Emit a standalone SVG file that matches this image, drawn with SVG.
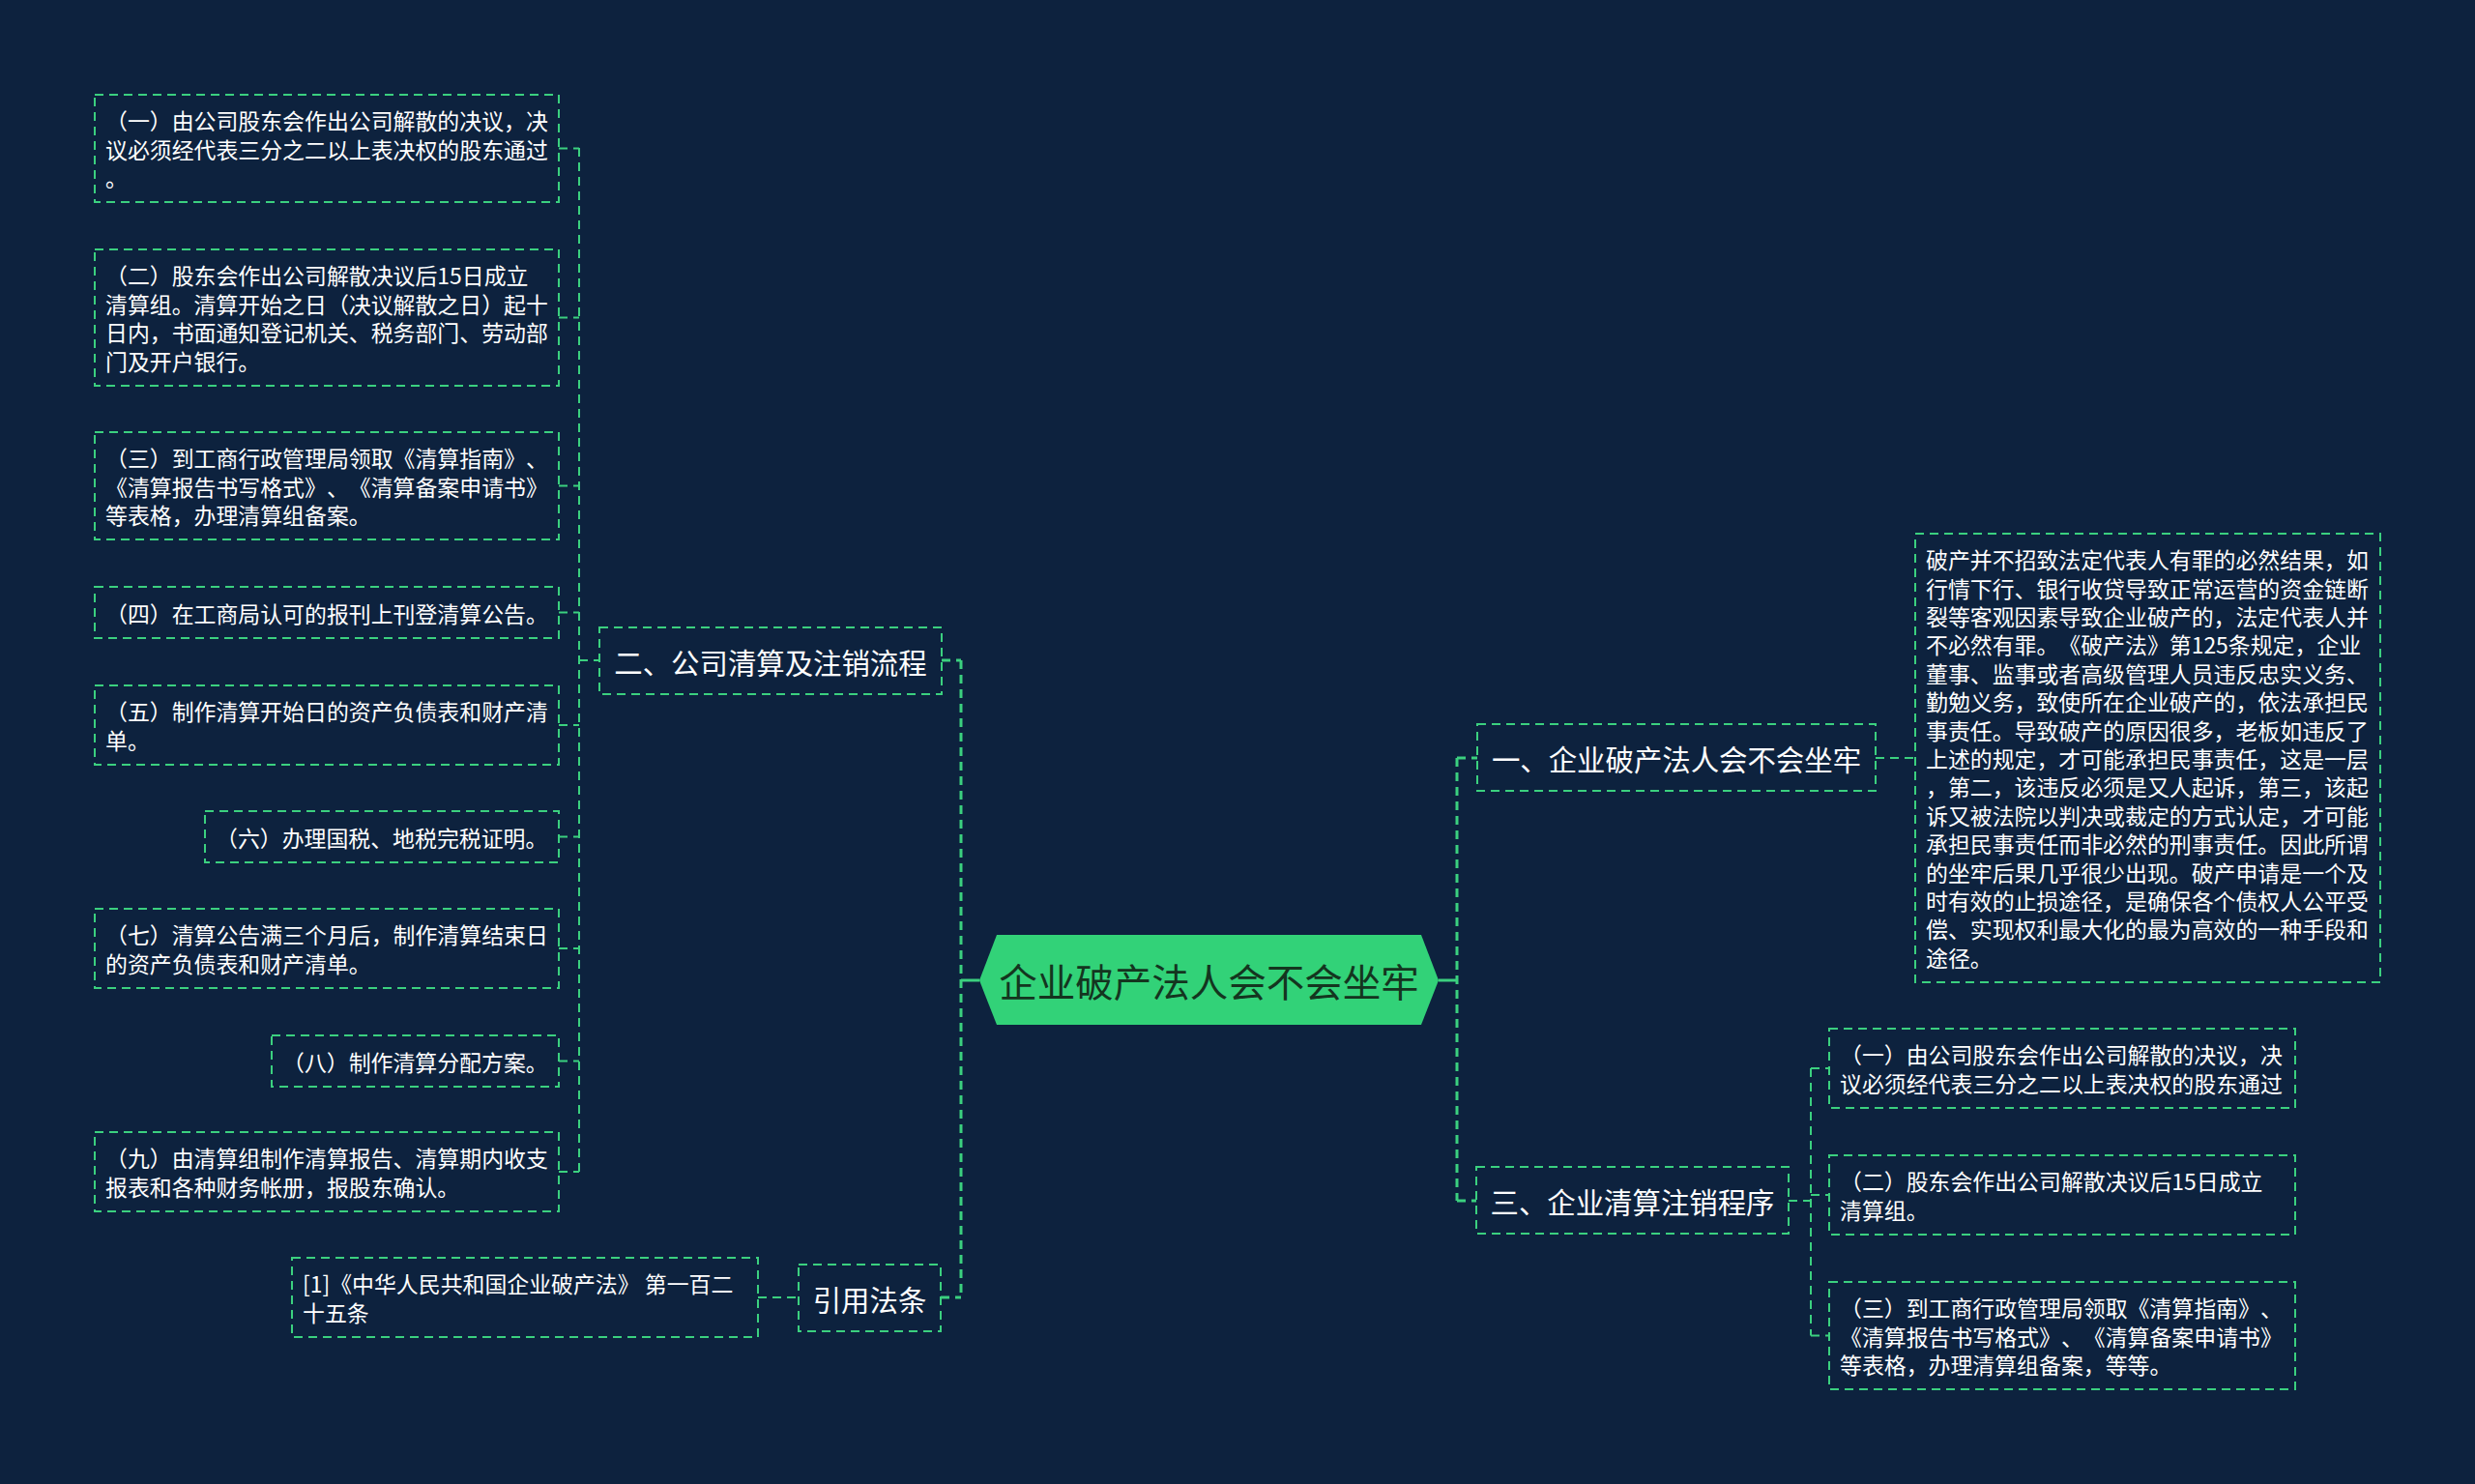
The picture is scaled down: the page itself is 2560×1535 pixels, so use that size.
<svg xmlns="http://www.w3.org/2000/svg" width="2560" height="1535" viewBox="0 0 2560 1535">
<style>
.bg{fill:#0d223e}
.box{fill:none;stroke:#3bd07f;stroke-width:2;stroke-dasharray:9 6}
.lk{fill:none;stroke:#3bd07f;stroke-width:2;stroke-dasharray:9 6}
.tk{fill:none;stroke:#3bd07f;stroke-width:3;stroke-dasharray:9 6}
.sol{fill:none;stroke:#3bd07f;stroke-width:3}
.t{font-family:"Noto Sans CJK SC","Microsoft YaHei",sans-serif;fill:#ffffff;dominant-baseline:central;text-spacing-trim:space-all}
.s{font-size:22.9px}
.m{font-size:29.4px}
.c{font-size:39.5px;fill:#14351f}
</style>
<rect class="bg" x="0" y="0" width="2560" height="1535"/>
<g id="connectors">
<path class="tk" d="M994,683 V1343 M974,683 H994 M973,1342 H994 M1507,784 V1242 M1507,784 H1528 M1507,1242 H1527"/>
<path class="sol" d="M994,1014 H1013 M1488,1014 H1507"/>
<path class="lk" d="M599,153 V1212 M599,683 H620 M578,153.5 H599 M578,328.5 H599 M578,502.5 H599 M578,633.5 H599 M578,750 H599 M578,865.5 H599 M578,981 H599 M578,1097.5 H599 M578,1212 H599"/>
<path class="lk" d="M784,1342 H826 M1940,784 H1981 M1850,1242 H1873 M1873,1105 V1381.5 M1873,1105 H1892 M1873,1236 H1892 M1873,1381.5 H1892"/>
</g>
<g id="root">
<polygon points="1013,1014 1031,967 1470,967 1488,1014 1470,1060 1031,1060" fill="#32d278"/>
<text class="t c" x="1250.5" y="1013" text-anchor="middle">企业破产法人会不会坐牢</text>
</g>
<g id="n2">
<rect class="box" x="620" y="649" width="354" height="69"/>
<text class="t m" x="797" y="684" text-anchor="middle">二、公司清算及注销流程</text>
</g>
<g id="nref">
<rect class="box" x="826" y="1308" width="147" height="69"/>
<text class="t m" x="899.5" y="1343" text-anchor="middle">引用法条</text>
</g>
<g id="n1">
<rect class="box" x="1528" y="749" width="412" height="69"/>
<text class="t m" x="1734" y="784" text-anchor="middle">一、企业破产法人会不会坐牢</text>
</g>
<g id="n3">
<rect class="box" x="1527" y="1207" width="323" height="69"/>
<text class="t m" x="1688.5" y="1242" text-anchor="middle">三、企业清算注销程序</text>
</g>
<g id="l1">
<rect class="box" x="98" y="98" width="480" height="111"/>
<text class="t s"><tspan x="109" y="124.1">（一）由公司股东会作出公司解散的决议，决</tspan><tspan x="109" y="153.5">议必须经代表三分之二以上表决权的股东通过</tspan><tspan x="109" y="182.9">。</tspan></text>
</g>
<g id="l2">
<rect class="box" x="98" y="258" width="480" height="141"/>
<text class="t s"><tspan x="109" y="284.4">（二）股东会作出公司解散决议后15日成立</tspan><tspan x="109" y="313.8">清算组。清算开始之日（决议解散之日）起十</tspan><tspan x="109" y="343.2">日内，书面通知登记机关、税务部门、劳动部</tspan><tspan x="109" y="372.6">门及开户银行。</tspan></text>
</g>
<g id="l3">
<rect class="box" x="98" y="447" width="480" height="111"/>
<text class="t s"><tspan x="109" y="473.1">（三）到工商行政管理局领取《清算指南》、</tspan><tspan x="109" y="502.5">《清算报告书写格式》、《清算备案申请书》</tspan><tspan x="109" y="531.9">等表格，办理清算组备案。</tspan></text>
</g>
<g id="l4">
<rect class="box" x="98" y="607" width="480" height="53"/>
<text class="t s" x="109" y="633.5">（四）在工商局认可的报刊上刊登清算公告。</text>
</g>
<g id="l5">
<rect class="box" x="98" y="709" width="480" height="82"/>
<text class="t s"><tspan x="109" y="735.3">（五）制作清算开始日的资产负债表和财产清</tspan><tspan x="109" y="764.7">单。</tspan></text>
</g>
<g id="l6">
<rect class="box" x="212" y="839" width="366" height="53"/>
<text class="t s" x="223" y="865.5">（六）办理国税、地税完税证明。</text>
</g>
<g id="l7">
<rect class="box" x="98" y="940" width="480" height="82"/>
<text class="t s"><tspan x="109" y="966.3">（七）清算公告满三个月后，制作清算结束日</tspan><tspan x="109" y="995.7">的资产负债表和财产清单。</tspan></text>
</g>
<g id="l8">
<rect class="box" x="281" y="1071" width="297" height="53"/>
<text class="t s" x="292" y="1097.5">（八）制作清算分配方案。</text>
</g>
<g id="l9">
<rect class="box" x="98" y="1171" width="480" height="82"/>
<text class="t s"><tspan x="109" y="1197.3">（九）由清算组制作清算报告、清算期内收支</tspan><tspan x="109" y="1226.7">报表和各种财务帐册，报股东确认。</tspan></text>
</g>
<g id="lref">
<rect class="box" x="302" y="1301" width="482" height="82"/>
<text class="t s"><tspan x="313" y="1327.3">[1]《中华人民共和国企业破产法》 第一百二</tspan><tspan x="313" y="1356.7">十五条</tspan></text>
</g>
<g id="r0">
<rect class="box" x="1981" y="552" width="481" height="464"/>
<text class="t s"><tspan x="1992" y="578.2">破产并不招致法定代表人有罪的必然结果，如</tspan><tspan x="1992" y="607.6">行情下行、银行收贷导致正常运营的资金链断</tspan><tspan x="1992" y="637">裂等客观因素导致企业破产的，法定代表人并</tspan><tspan x="1992" y="666.4">不必然有罪。《破产法》第125条规定，企业</tspan><tspan x="1992" y="695.8">董事、监事或者高级管理人员违反忠实义务、</tspan><tspan x="1992" y="725.2">勤勉义务，致使所在企业破产的，依法承担民</tspan><tspan x="1992" y="754.6">事责任。导致破产的原因很多，老板如违反了</tspan><tspan x="1992" y="784">上述的规定，才可能承担民事责任，这是一层</tspan><tspan x="1992" y="813.4">，第二，该违反必须是又人起诉，第三，该起</tspan><tspan x="1992" y="842.8">诉又被法院以判决或裁定的方式认定，才可能</tspan><tspan x="1992" y="872.2">承担民事责任而非必然的刑事责任。因此所谓</tspan><tspan x="1992" y="901.6">的坐牢后果几乎很少出现。破产申请是一个及</tspan><tspan x="1992" y="931">时有效的止损途径，是确保各个债权人公平受</tspan><tspan x="1992" y="960.4">偿、实现权利最大化的最为高效的一种手段和</tspan><tspan x="1992" y="989.8">途径。</tspan></text>
</g>
<g id="r1">
<rect class="box" x="1892" y="1064" width="482" height="82"/>
<text class="t s"><tspan x="1903" y="1090.3">（一）由公司股东会作出公司解散的决议，决</tspan><tspan x="1903" y="1119.7">议必须经代表三分之二以上表决权的股东通过</tspan></text>
</g>
<g id="r2">
<rect class="box" x="1892" y="1195" width="482" height="82"/>
<text class="t s"><tspan x="1903" y="1221.3">（二）股东会作出公司解散决议后15日成立</tspan><tspan x="1903" y="1250.7">清算组。</tspan></text>
</g>
<g id="r3">
<rect class="box" x="1892" y="1326" width="482" height="111"/>
<text class="t s"><tspan x="1903" y="1352.1">（三）到工商行政管理局领取《清算指南》、</tspan><tspan x="1903" y="1381.5">《清算报告书写格式》、《清算备案申请书》</tspan><tspan x="1903" y="1410.9">等表格，办理清算组备案，等等。</tspan></text>
</g>
</svg>
